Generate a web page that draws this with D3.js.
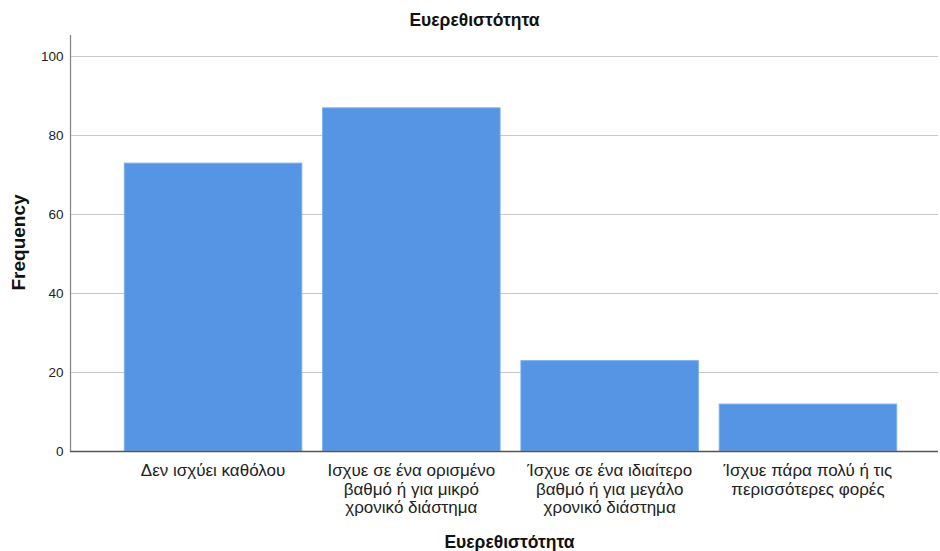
<!DOCTYPE html>
<html><head><meta charset="utf-8">
<script src="https://cdn.jsdelivr.net/npm/d3@7"></script>
<style>body{margin:0;background:#fff}svg{display:block;font-family:"Liberation Sans",Arial,sans-serif}</style>
</head><body><svg id="c" width="940" height="551"></svg>
<script>
const categories = [
  ["Δεν ισχύει καθόλου"],
  ["Ισχυε σε ένα ορισμένο","βαθμό ή για μικρό","χρονικό διάστημα"],
  ["Ίσχυε σε ένα ιδιαίτερο","βαθμό ή για μεγάλο","χρονικό διάστημα"],
  ["Ίσχυε πάρα πολύ ή τις","περισσότερες φορές"]
];
const values = [73, 87, 23, 12];
const yTicks = [0, 20, 40, 60, 80, 100];
const title = "Ευερεθιστότητα";
const xTitle = "Ευερεθιστότητα";
const yTitle = "Frequency";

const svg = d3.select("#c");
const keys = categories.map((c,i)=>String(i));
const x = d3.scaleBand().domain(keys).range([104, 917]).paddingInner(0.1).paddingOuter(0.1);
const y = d3.scaleLinear().domain([0, 100]).range([451, 56]);

// gridlines
svg.append("g").selectAll("line").data(yTicks.filter(d=>d>0)).join("line")
  .attr("x1", 70).attr("x2", 938)
  .attr("y1", d=>y(d)+0.5).attr("y2", d=>y(d)+0.5)
  .attr("stroke", "#c8c8c8").attr("stroke-width", 1);

// bars
svg.append("g").selectAll("rect").data(values).join("rect")
  .attr("x", (d,i)=>x(keys[i])+0.5)
  .attr("y", d=>y(d)+0.5)
  .attr("width", x.bandwidth()-1)
  .attr("height", d=>y(0)-y(d)-0.5)
  .attr("fill", "#5595e3")
  .attr("stroke", "#7aaeec").attr("stroke-width", 1);

// y axis
const ya = d3.axisLeft(y).tickValues(yTicks).tickSize(0).tickPadding(7);
const gy = svg.append("g").attr("transform","translate(70.5,0)").call(ya);
gy.select(".domain").remove();
gy.selectAll("text").attr("font-size", 13.5).attr("fill", "#222").attr("font-family","Liberation Sans, Arial, sans-serif");
svg.append("line").attr("x1",70.5).attr("x2",70.5).attr("y1",35).attr("y2",452).attr("stroke","#888").attr("stroke-width",1.3);
svg.append("line").attr("x1",70).attr("x2",938).attr("y1",451.5).attr("y2",451.5).attr("stroke","#555").attr("stroke-width",1.3);

// x axis labels
const xl = svg.append("g");
categories.forEach((lines,i)=>{
  const t = xl.append("text").attr("x", x(keys[i]) + x.bandwidth()/2).attr("y", 476)
    .attr("text-anchor","middle").attr("font-size", 17).attr("fill","#222");
  lines.forEach((ln,j)=> t.append("tspan").attr("x", x(keys[i]) + x.bandwidth()/2).attr("dy", j===0?0:18.5).text(ln));
});

// titles
svg.append("text").attr("x", 474.5).attr("y", 26).attr("text-anchor","middle")
  .attr("font-size", 17.5).attr("font-weight","bold").attr("fill","#111").text(title);
svg.append("text").attr("x", 509.5).attr("y", 548).attr("text-anchor","middle")
  .attr("font-size", 17.5).attr("font-weight","bold").attr("fill","#111").text(xTitle);
svg.append("text").attr("transform","translate(25,242.5) rotate(-90)").attr("text-anchor","middle")
  .attr("font-size", 19).attr("font-weight","bold").attr("fill","#111").text(yTitle);
</script></body></html>
